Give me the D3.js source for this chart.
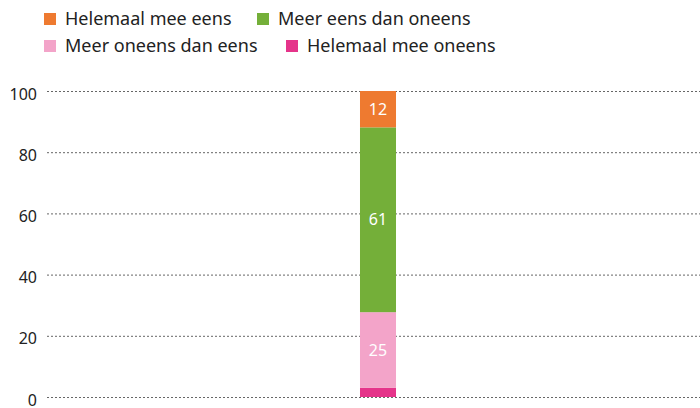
<!DOCTYPE html>
<html>
<head>
<meta charset="utf-8">
<script src="https://cdn.jsdelivr.net/npm/d3@7"></script>
<style>
  body { margin: 0; background: #fff; }
  text { font-family: "Noto Sans", "Open Sans", sans-serif; }
</style>
</head>
<body>
<div id="chart"></div>
<script>
var categories = ["Helemaal mee eens", "Meer eens dan oneens", "Meer oneens dan eens", "Helemaal mee oneens"];
var values = [12, 61, 25, 3];
var colors = ["#ee7a30", "#74af39", "#f3a4c9", "#e5348a"];
var ticks = [0, 20, 40, 60, 80, 100];

var width = 700, height = 408,
  margin = {top: 91, right: 0, bottom: 11, left: 47};

var svg = d3.select("#chart")
  .append("svg")
  .attr("width", width)
  .attr("height", height);

// legend, two rows
var legendPos = [[44, 19], [257, 19], [44, 46], [286, 46]];
var legend = svg.append("g").selectAll("g")
  .data(categories)
  .enter().append("g")
  .attr("transform", function(d, i) { return "translate(" + legendPos[i][0] + "," + legendPos[i][1] + ")"; });
legend.append("rect")
  .attr("y", -6).attr("width", 12).attr("height", 12)
  .attr("fill", function(d, i) { return colors[i]; });
legend.append("text")
  .attr("x", 21).attr("dy", "0.35em")
  .attr("font-size", 18).attr("fill", "#222")
  .text(function(d) { return d; });

var y = d3.scaleLinear().domain([0, 100])
  .range([height - margin.bottom, margin.top]);
var x = d3.scaleBand().domain(["all"])
  .range([margin.left + 9, width]).paddingInner(0).paddingOuter(8.44);

var yAxis = svg.append("g")
  .attr("transform", "translate(" + margin.left + ",0)")
  .call(d3.axisLeft(y).tickValues(ticks).tickSize(-(width - margin.left)).tickPadding(10));
yAxis.select(".domain").remove();
yAxis.selectAll(".tick line")
  .attr("stroke", "#666").attr("stroke-width", 1).attr("stroke-dasharray", "2,2");
yAxis.selectAll(".tick text")
  .attr("font-size", 16).attr("fill", "#222").attr("dy", "0.5em")
  .attr("font-family", "Noto Sans, Open Sans, sans-serif");

// stacked, normalised to 100
var total = d3.sum(values);
var row = {};
categories.forEach(function(c, i) { row[c] = values[i] / total * 100; });
var order = categories.slice().reverse();
var stack = d3.stack().keys(order)([row]);

var seg = svg.append("g").selectAll("g")
  .data(stack)
  .enter().append("g");
seg.append("rect")
  .attr("x", x("all")).attr("width", x.bandwidth())
  .attr("y", function(d) { return y(d[0][1]); })
  .attr("height", function(d) { return y(d[0][0]) - y(d[0][1]); })
  .attr("fill", function(d) { return colors[categories.indexOf(d.key)]; });
seg.filter(function(d) { return values[categories.indexOf(d.key)] >= 5; })
  .append("text")
  .attr("x", x("all") + x.bandwidth() / 2)
  .attr("y", function(d) { return (y(d[0][0]) + y(d[0][1])) / 2; })
  .attr("dy", "0.35em")
  .attr("text-anchor", "middle")
  .attr("font-size", 16).attr("fill", "#fff")
  .text(function(d) { return values[categories.indexOf(d.key)]; });
</script>
</body>
</html>
